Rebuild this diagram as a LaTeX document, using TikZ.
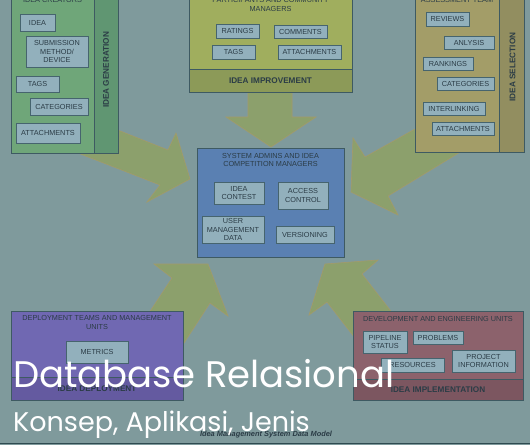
\documentclass[tikz,border=0pt]{standalone}
\usepackage{fontspec}
\setmainfont{Liberation Sans}
\newfontfamily\coverfont{Poppins}
\usetikzlibrary{positioning}
\definecolor{Backdrop}{HTML}{7F9A9C}
\definecolor{CreatorGreen}{HTML}{6FA679}
\definecolor{CreatorStrip}{HTML}{609672}
\definecolor{ImproveOlive}{HTML}{A0AE5E}
\definecolor{ImproveStrip}{HTML}{8C9A58}
\definecolor{SelectKhaki}{HTML}{A39D68}
\definecolor{SelectStrip}{HTML}{928E60}
\definecolor{AdminBlue}{HTML}{5A80B2}
\definecolor{DeployPurple}{HTML}{7068B2}
\definecolor{DeployStrip}{HTML}{645AA0}
\definecolor{BuildRed}{HTML}{8C626C}
\definecolor{BuildStrip}{HTML}{7C5660}
\definecolor{ItemFill}{HTML}{92B0BC}
\definecolor{ItemEdge}{HTML}{46646E}
\definecolor{UnitEdge}{HTML}{3E5A62}
\definecolor{Ink}{HTML}{2B3C46}
\definecolor{ArrowFill}{HTML}{8CA06C}
\definecolor{ArrowEdge}{HTML}{A39A6A}
\definecolor{BaseRule}{HTML}{2E4A50}

\begin{document}
\begin{tikzpicture}[
    x=1pt, y=-1pt,
    unit/.style={
      draw=UnitEdge,
      fill=#1,
      line width=0.6pt,
      inner sep=0pt
    },
    item/.style={
      draw=ItemEdge,
      fill=ItemFill,
      line width=0.6pt,
      inner sep=0pt,
      text=Ink,
      align=center,
      font=\fontsize{7.3}{8.8}\selectfont
    },
    title/.style={
      text=Ink,
      align=center,
      inner sep=0pt,
      font=\fontsize{7.3}{8.8}\selectfont
    },
    stage/.style={
      text=Ink,
      inner sep=0pt,
      font=\bfseries\fontsize{8.2}{9}\selectfont
    },
    bigarrow/.style={
      fill=ArrowFill,
      draw=ArrowEdge,
      line width=0.6pt
    }
  ]

  \useasboundingbox (0,0) rectangle (530,445);
  \clip (0,0) rectangle (530,445);
  \fill[Backdrop] (0,0) rectangle (530,445);

  % Block arrows towards the centre
  \draw[bigarrow] (248,80) -- (248,117) -- (226,117) -- (271,147)
    -- (316,117) -- (292,117) -- (292,80) -- cycle;
  \draw[bigarrow] (90,119) -- (168,150) -- (176,133) -- (190,179)
    -- (147,202) -- (160,185) -- (60,146) -- cycle;
  \draw[bigarrow] (440,115) -- (365,157) -- (353,138) -- (351,192)
    -- (398,215) -- (388,196) -- (480,140) -- cycle;
  \draw[bigarrow] (118,360) -- (172,278) -- (154,264) -- (208,264)
    -- (228,316) -- (210,303) -- (173,360) -- cycle;
  \draw[bigarrow] (372,360) -- (327,302) -- (309,315) -- (325,264)
    -- (378,260) -- (362,274) -- (429,360) -- cycle;

  % Idea generation (top left)
  \node[unit=CreatorGreen, minimum width=83pt, minimum height=163pt] (genbody) at (52.5,71.5) {};
  \node[unit=CreatorStrip, minimum width=24pt, minimum height=163pt] (genstrip) at (106,71.5) {};
  \node[stage, rotate=90] at (106,70) {IDEA GENERATION};
  \node[title] (gentitle) at (52.5,0) {IDEA CREATORS};
  \node[item, minimum width=35pt, minimum height=17pt] (gidea) at (37.5,22.5) {IDEA};
  \node[item, minimum width=62pt, minimum height=31pt] (gsub) at (57,51.5) {SUBMISSION\\METHOD/\\DEVICE};
  \node[item, minimum width=43pt, minimum height=16pt] (gtags) at (37.5,84) {TAGS};
  \node[item, minimum width=58pt, minimum height=17pt] (gcat) at (59,106.5) {CATEGORIES};
  \node[item, minimum width=64pt, minimum height=20pt] (gatt) at (48,133) {ATTACHMENTS};

  % Idea improvement (top)
  \node[unit=ImproveOlive, minimum width=163pt, minimum height=79pt] (impbody) at (270.5,29.5) {};
  \node[unit=ImproveStrip, minimum width=163pt, minimum height=23pt] (impstrip) at (270.5,80.5) {};
  \node[stage] at (270.5,81) {IDEA IMPROVEMENT};
  \node[title] (imptitle) at (270.5,4.5) {PARTICIPANTS AND COMMUNITY\\MANAGERS};
  \node[item, minimum width=43pt, minimum height=14pt] (irat) at (237.5,31) {RATINGS};
  \node[item, minimum width=53pt, minimum height=13pt] (icom) at (300.5,31.5) {COMMENTS};
  \node[item, minimum width=43pt, minimum height=14pt] (itags) at (233.5,52) {TAGS};
  \node[item, minimum width=63pt, minimum height=14pt] (iatt) at (309.5,52) {ATTACHMENTS};

  % Idea selection (top right)
  \node[unit=SelectKhaki, minimum width=84pt, minimum height=162pt] (selbody) at (457,71) {};
  \node[unit=SelectStrip, minimum width=25pt, minimum height=162pt] (selstrip) at (511.5,71) {};
  \node[stage, rotate=90] at (512.5,67) {IDEA SELECTION};
  \node[title] (seltitle) at (457,0) {ASSESSMENT TEAM};
  \node[item, minimum width=43pt, minimum height=14pt] (srev) at (447.5,19) {REVIEWS};
  \node[item, minimum width=50pt, minimum height=13pt] (sana) at (469,42.5) {ANLYSIS};
  \node[item, minimum width=50pt, minimum height=13pt] (srank) at (448,63.5) {RANKINGS};
  \node[item, minimum width=57pt, minimum height=13pt] (scat) at (465.5,83.5) {CATEGORIES};
  \node[item, minimum width=62pt, minimum height=13pt] (slink) at (454,108.5) {INTERLINKING};
  \node[item, minimum width=62pt, minimum height=13pt] (satt) at (463,128.5) {ATTACHMENTS};

  % System admins (centre)
  \node[unit=AdminBlue, minimum width=147pt, minimum height=109pt] (admbody) at (270.5,202.5) {};
  \node[title] (admtitle) at (270.5,160) {SYSTEM ADMINS AND IDEA\\COMPETITION MANAGERS};
  \node[item, minimum width=50pt, minimum height=22pt] (acont) at (239,193) {IDEA\\CONTEST};
  \node[item, minimum width=50pt, minimum height=27pt] (aacc) at (303,195.5) {ACCESS\\CONTROL};
  \node[item, minimum width=62pt, minimum height=27pt] (auser) at (233,229.5) {USER\\MANAGEMENT\\DATA};
  \node[item, minimum width=58pt, minimum height=17pt] (avers) at (305,234.5) {VERSIONING};

  % Idea deployment (bottom left)
  \node[unit=DeployPurple, minimum width=172pt, minimum height=66pt] (depbody) at (97,344) {};
  \node[unit=DeployStrip, minimum width=172pt, minimum height=23pt] (depstrip) at (97,388.5) {};
  \node[stage] at (97,389) {IDEA DEPLOYMENT};
  \node[title] (deptitle) at (97,322.5) {DEPLOYMENT TEAMS AND MANAGEMENT\\UNITS};
  \node[item, minimum width=62pt, minimum height=22pt] (dmet) at (97,352) {METRICS};

  % Idea implementation (bottom right)
  \node[unit=BuildRed, minimum width=170pt, minimum height=68pt] (devbody) at (438,345) {};
  \node[unit=BuildStrip, minimum width=170pt, minimum height=21pt] (devstrip) at (438,389.5) {};
  \node[stage] at (438,389.5) {IDEA IMPLEMENTATION};
  \node[title] (devtitle) at (438,319) {DEVELOPMENT AND ENGINEERING UNITS};
  \node[item, minimum width=44pt, minimum height=22pt] (vpipe) at (385,342) {PIPELINE\\STATUS};
  \node[item, minimum width=50pt, minimum height=13pt] (vprob) at (438,337.5) {PROBLEMS};
  \node[item, minimum width=63pt, minimum height=14pt] (vres) at (412.5,365) {RESOURCES};
  \node[item, minimum width=63pt, minimum height=22pt] (vproj) at (483.5,361) {PROJECT\\INFORMATION};

  % Caption and base rule
  \node[text=Ink, inner sep=0pt, font=\bfseries\itshape\fontsize{7.4}{8}\selectfont] (caption) at (266,435) {Idea Management System Data Model};
  \draw[BaseRule, line width=1.5pt] (0,443.5) -- (530,443.5);

  % Cover title
  \node[anchor=base west, text=white, inner sep=0pt, font=\coverfont\fontsize{37}{37}\selectfont] (cover) at (13,387) {Database Relasional};
  \node[anchor=base west, text=white, inner sep=0pt, font=\coverfont\fontsize{27}{27}\selectfont] (subcover) at (13,431) {Konsep, Aplikasi, Jenis};

\end{tikzpicture}
\end{document}
